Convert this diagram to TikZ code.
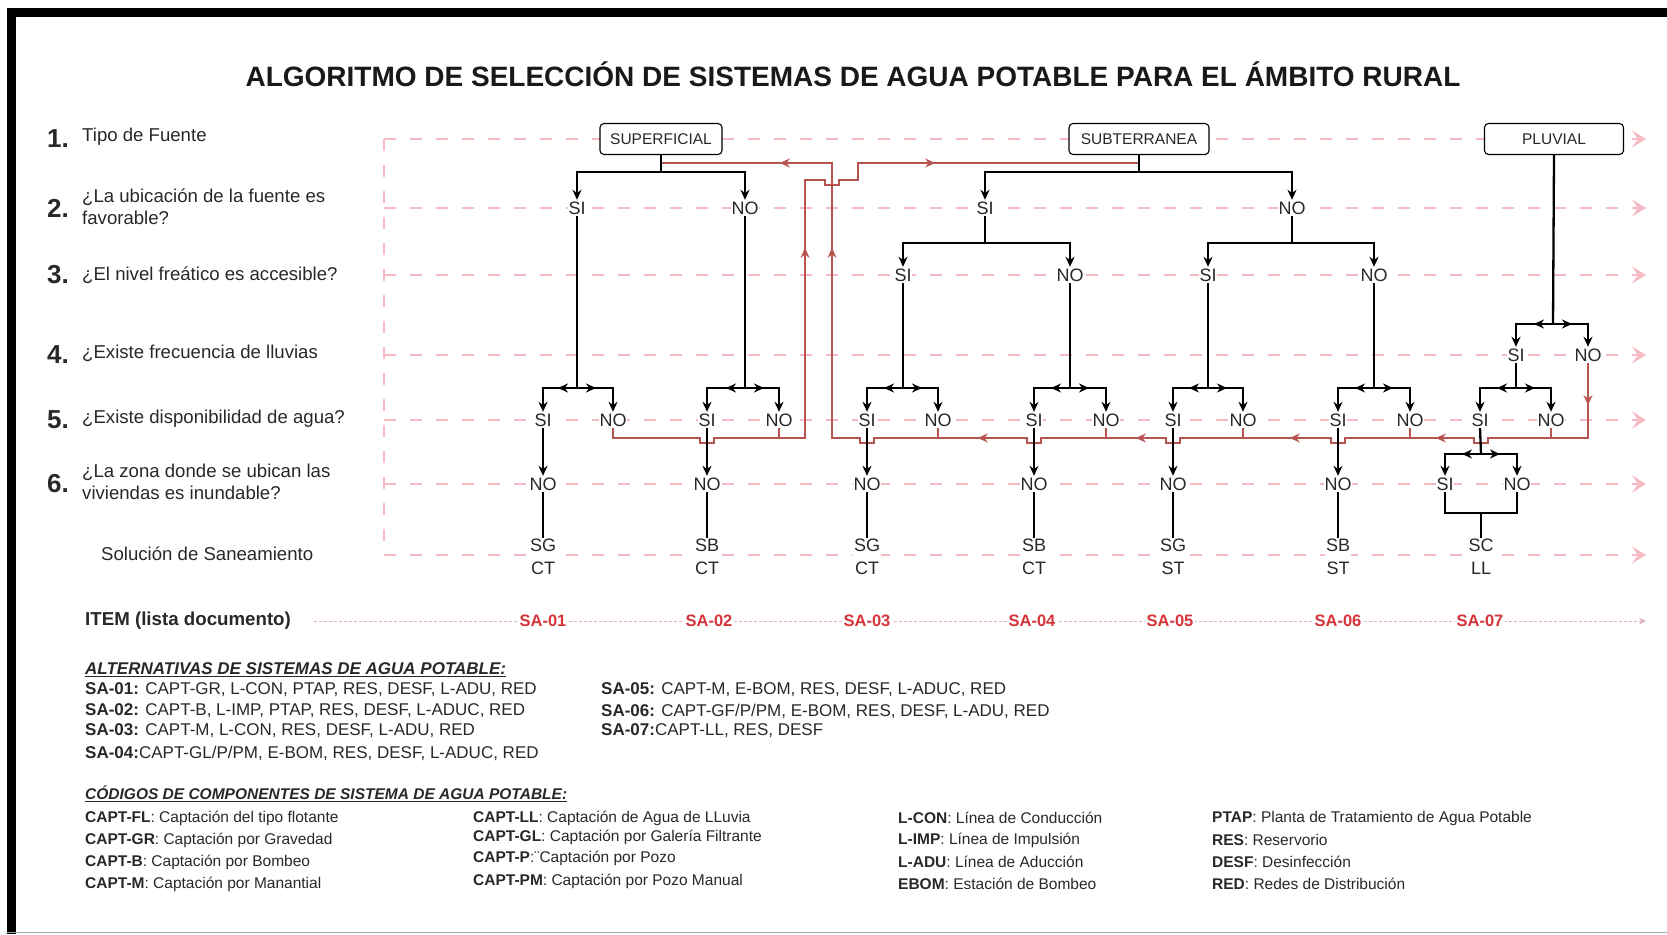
\documentclass[tikz,border=0pt]{standalone}
\usepackage{fontspec}
\setmainfont{Liberation Sans}
\usetikzlibrary{arrows.meta,decorations.markings}
\definecolor{dpink}{RGB}{245,186,194}
\definecolor{rline}{RGB}{184,84,80}
\definecolor{salab}{RGB}{212,52,58}
\definecolor{txt}{RGB}{40,40,40}
\definecolor{itemln}{RGB}{222,180,186}
\newcommand{\tipA}{\arrow{Stealth[length=10pt,width=9pt]}}
\begin{document}
\begin{tikzpicture}[x=1pt,y=-1pt,
  blk/.style={line width=2.3pt, draw=black},
  tipd/.style={-{Stealth[length=10pt,width=9pt]}},
  barl/.style={postaction={decorate}, decoration={markings, mark=at position 19pt with {\tipA}}},
  rl/.style={line width=2pt, draw=rline},
  yn/.style={font=\fontsize{18}{18}\selectfont, text=txt, fill=white, inner xsep=0.5pt, inner ysep=1.5pt, text height=13pt, text depth=0pt},
  sol/.style={font=\fontsize{18}{23}\selectfont, text=txt, align=center, inner sep=1pt, fill=white},
  srcbox/.style={draw=black, line width=1.1pt, rounded corners=4pt, fill=white, minimum height=31pt, font=\fontsize{15.5}{15.5}\selectfont, text=txt},
  sa/.style={font=\bfseries\fontsize{16.5}{16.5}\selectfont, text=salab, fill=white, inner sep=2pt},
  qtxt/.style={font=\fontsize{18.6}{22}\selectfont, text=txt, anchor=west, align=left, inner sep=0pt},
  qnum/.style={font=\bfseries\fontsize{26}{26}\selectfont, text=txt, inner sep=0pt},
  rowl/.style={draw=dpink, line width=2.6pt, dash pattern=on 12pt off 14pt},
  rowa/.style={rowl, -{Stealth[length=14pt,width=17pt,inset=6pt]}},
  leg/.style={anchor=west, inner sep=0pt, text=txt, font=\fontsize{17}{20}\selectfont},
  cod/.style={anchor=west, inner sep=0pt, text=txt, font=\fontsize{15.5}{18}\selectfont},
]
\useasboundingbox (0,0) rectangle (1667,934);
% frame
\draw[line width=9pt, line join=miter] (11.5,934) -- (11.5,12.5) -- (1667,12.5);
\draw[gray!70, line width=1.5pt] (7,932.5) -- (1667,932.5);

% title
\node[font=\bfseries\fontsize{28}{28}\selectfont, text=black!90] (title) at (853,74) {ALGORITMO DE SELECCIÓN DE SISTEMAS DE AGUA POTABLE PARA EL ÁMBITO RURAL};

% guide lines
\coordinate (gTop) at (384,139);
\coordinate (gBot) at (384,555);
\draw[rowl] (gTop) -- (gBot);
\foreach \yy in {139,208,275,355,420,484,555}{
  \draw[rowa] (384,\yy) -- (1646,\yy);
}
\coordinate (itL) at (314,621);
\coordinate (itR) at (1646,621);
\draw[draw=itemln, line width=1pt, dash pattern=on 3pt off 2pt, -{Stealth[length=7pt,width=7pt]}] (itL) -- (itR);

% left labels
\node[qnum] (n1) at (58,139) {1.};
\node[qtxt] (q1) at (82,137) {Tipo de Fuente};
\node[qnum] (n2) at (58,208) {2.};
\node[qtxt] (q2) at (82,207) {¿La ubicación de la fuente es\\favorable?};
\node[qnum] (n3) at (58,275) {3.};
\node[qtxt] (q3) at (82,275) {¿El nivel freático es accesible?};
\node[qnum] (n4) at (58,355) {4.};
\node[qtxt] (q4) at (82,353) {¿Existe frecuencia de lluvias};
\node[qnum] (n5) at (58,420) {5.};
\node[qtxt] (q5) at (82,419) {¿Existe disponibilidad de agua?};
\node[qnum] (n6) at (58,484) {6.};
\node[qtxt] (q6) at (82,482) {¿La zona donde se ubican las\\viviendas es inundable?};
\node[qtxt] (q7) at (101,554) {Solución de Saneamiento};
\node[qtxt, font=\bfseries\fontsize{18.7}{22}\selectfont] (q8) at (85,621) {ITEM (lista documento)};

% source boxes
\node[srcbox, minimum width=122pt] (sup) at (661,139) {SUPERFICIAL};
\node[srcbox, minimum width=140pt] (sub) at (1139,139) {SUBTERRANEA};
\node[srcbox, minimum width=139pt] (plu) at (1554,139) {PLUVIAL};

% row 2
\node[yn] (s2si) at (577,208) {SI};
\node[yn] (s2no) at (745,208) {NO};
\node[yn] (u2si) at (985,208) {SI};
\node[yn] (u2no) at (1292,208) {NO};
% row 3
\node[yn] (u3asi) at (903,275) {SI};
\node[yn] (u3ano) at (1070,275) {NO};
\node[yn] (u3bsi) at (1208,275) {SI};
\node[yn] (u3bno) at (1374,275) {NO};
% row 4
\node[yn] (p4si) at (1516,355) {SI};
\node[yn] (p4no) at (1588,355) {NO};
% row 5
\node[yn] (a5si) at (543,420) {SI};
\node[yn] (a5no) at (613,420) {NO};
\node[yn] (b5si) at (707,420) {SI};
\node[yn] (b5no) at (779,420) {NO};
\node[yn] (c5si) at (867,420) {SI};
\node[yn] (c5no) at (938,420) {NO};
\node[yn] (d5si) at (1034,420) {SI};
\node[yn] (d5no) at (1106,420) {NO};
\node[yn] (e5si) at (1173,420) {SI};
\node[yn] (e5no) at (1243,420) {NO};
\node[yn] (f5si) at (1338,420) {SI};
\node[yn] (f5no) at (1410,420) {NO};
\node[yn] (g5si) at (1480,420) {SI};
\node[yn] (g5no) at (1551,420) {NO};
% row 6
\node[yn] (a6) at (543,484) {NO};
\node[yn] (b6) at (707,484) {NO};
\node[yn] (c6) at (867,484) {NO};
\node[yn] (d6) at (1034,484) {NO};
\node[yn] (e6) at (1173,484) {NO};
\node[yn] (f6) at (1338,484) {NO};
\node[yn] (g6si) at (1445,484) {SI};
\node[yn] (g6no) at (1517,484) {NO};
% row 7
\node[sol] (a7) at (543,557) {SG\\CT};
\node[sol] (b7) at (707,557) {SB\\CT};
\node[sol] (c7) at (867,557) {SG\\CT};
\node[sol] (d7) at (1034,557) {SB\\CT};
\node[sol] (e7) at (1173,557) {SG\\ST};
\node[sol] (f7) at (1338,557) {SB\\ST};
\node[sol] (g7) at (1481,557) {SC\\LL};
% items
\node[sa] (sa1) at (543,621) {SA-01};
\node[sa] (sa2) at (709,621) {SA-02};
\node[sa] (sa3) at (867,621) {SA-03};
\node[sa] (sa4) at (1032,621) {SA-04};
\node[sa] (sa5) at (1170,621) {SA-05};
\node[sa] (sa6) at (1338,621) {SA-06};
\node[sa] (sa7) at (1480,621) {SA-07};

% red return connectors
\draw[rl, postaction={decorate}, decoration={markings,
    mark=at position 402pt with {\arrow{Stealth[length=10pt,width=9pt]}},
    mark=at position 627pt with {\arrow{Stealth[length=10pt,width=9pt]}}}]
  (a5no.south) -- (613,438) -- (700,438) -- (700,443) -- (714,443) -- (714,438)
  -- (805,438) -- (805,180) -- (825,180) -- (825,185) -- (839,185) -- (839,180)
  -- (858,180) -- (858,163) -- (1139,163);
\draw[rl] (b5no.south) -- (779,438);
\draw[rl, postaction={decorate}, decoration={markings,
    mark=at position 42pt with {\arrow{Stealth[length=10pt,width=9pt]}},
    mark=at position 237pt with {\arrow{Stealth[length=10pt,width=9pt]}},
    mark=at position 393pt with {\arrow{Stealth[length=10pt,width=9pt]}},
    mark=at position 557pt with {\arrow{Stealth[length=10pt,width=9pt]}},
    mark=at position 725pt with {\arrow{Stealth[length=10pt,width=9pt]}},
    mark=at position 1071pt with {\arrow{Stealth[length=10pt,width=9pt]}},
    mark=at position 1208pt with {\arrow{Stealth[length=10pt,width=9pt]}}}]
  (p4no.south) -- (1588,438) -- (1488,438) -- (1488,443) -- (1474,443) -- (1474,438)
  -- (1345,438) -- (1345,443) -- (1331,443) -- (1331,438)
  -- (1180,438) -- (1180,443) -- (1166,443) -- (1166,438)
  -- (1041,438) -- (1041,443) -- (1027,443) -- (1027,438)
  -- (874,438) -- (874,443) -- (860,443) -- (860,438)
  -- (832,438) -- (832,163) -- (661,163);
\draw[rl] (c5no.south) -- (938,438);
\draw[rl] (d5no.south) -- (1106,438);
\draw[rl] (e5no.south) -- (1243,438);
\draw[rl] (f5no.south) -- (1410,438);
\draw[rl] (g5no.south) -- (1551,438);

% black tree: superficial
\draw[blk] (sup.south) -- (661,172);
\draw[blk,tipd] (661,172) -| (s2si.north);
\draw[blk,tipd] (661,172) -| (s2no.north);
% subterranea
\draw[blk] (sub.south) -- (1139,172);
\draw[blk,tipd] (1139,172) -| (u2si.north);
\draw[blk,tipd] (1139,172) -| (u2no.north);
\draw[blk] (u2si.south) -- (985,243);
\draw[blk,tipd] (985,243) -| (u3asi.north);
\draw[blk,tipd] (985,243) -| (u3ano.north);
\draw[blk] (u2no.south) -- (1292,243);
\draw[blk,tipd] (1292,243) -| (u3bsi.north);
\draw[blk,tipd] (1292,243) -| (u3bno.north);
% pluvial
\draw[blk] (plu.south) -- (1553,324);
\draw[blk,tipd,barl] (1553,324) -| (p4si.north);
\draw[blk,tipd,barl] (1553,324) -| (p4no.north);
% row 5 bars
\draw[blk] (s2si.south) -- (577,388);
\draw[blk,tipd,barl] (577,388) -| (a5si.north);
\draw[blk,tipd,barl] (577,388) -| (a5no.north);
\draw[blk] (s2no.south) -- (745,388);
\draw[blk,tipd,barl] (745,388) -| (b5si.north);
\draw[blk,tipd,barl] (745,388) -| (b5no.north);
\draw[blk] (u3asi.south) -- (903,388);
\draw[blk,tipd,barl] (903,388) -| (c5si.north);
\draw[blk,tipd,barl] (903,388) -| (c5no.north);
\draw[blk] (u3ano.south) -- (1070,388);
\draw[blk,tipd,barl] (1070,388) -| (d5si.north);
\draw[blk,tipd,barl] (1070,388) -| (d5no.north);
\draw[blk] (u3bsi.south) -- (1208,388);
\draw[blk,tipd,barl] (1208,388) -| (e5si.north);
\draw[blk,tipd,barl] (1208,388) -| (e5no.north);
\draw[blk] (u3bno.south) -- (1374,388);
\draw[blk,tipd,barl] (1374,388) -| (f5si.north);
\draw[blk,tipd,barl] (1374,388) -| (f5no.north);
\draw[blk] (p4si.south) -- (1516,388);
\draw[blk,tipd,barl] (1516,388) -| (g5si.north);
\draw[blk,tipd,barl] (1516,388) -| (g5no.north);
% row 5 -> row 6
\draw[blk,tipd] (a5si.south) -- (a6.north);
\draw[blk,tipd] (b5si.south) -- (b6.north);
\draw[blk,tipd] (c5si.south) -- (c6.north);
\draw[blk,tipd] (d5si.south) -- (d6.north);
\draw[blk,tipd] (e5si.south) -- (e6.north);
\draw[blk,tipd] (f5si.south) -- (f6.north);
\draw[blk] (g5si.south) -- (1481,454);
\draw[blk,tipd,barl] (1481,454) -| (g6si.north);
\draw[blk,tipd,barl] (1481,454) -| (g6no.north);
% row 6 -> row 7
\draw[blk] (a6.south) -- (a7.north);
\draw[blk] (b6.south) -- (b7.north);
\draw[blk] (c6.south) -- (c7.north);
\draw[blk] (d6.south) -- (d7.north);
\draw[blk] (e6.south) -- (e7.north);
\draw[blk] (f6.south) -- (f7.north);
\draw[blk] (g6si.south) -- (1445,513) -- (1517,513) -- (g6no.south);
\draw[blk] (1481,513) -- (g7.north);

% legend: alternatives
\node[leg, font=\bfseries\itshape\fontsize{17}{20}\selectfont] (hA) at (85,670) {\underline{ALTERNATIVAS DE SISTEMAS DE AGUA POTABLE:}};
\node[leg] (l1) at (85,690) {\textbf{SA-01:} CAPT-GR, L-CON, PTAP, RES, DESF, L-ADU, RED};
\node[leg] (l2) at (85,711) {\textbf{SA-02:} CAPT-B, L-IMP, PTAP, RES, DESF, L-ADUC, RED};
\node[leg] (l3) at (85,731) {\textbf{SA-03:} CAPT-M, L-CON, RES, DESF, L-ADU, RED};
\node[leg] (l4) at (85,753) {\textbf{SA-04:}CAPT-GL/P/PM, E-BOM, RES, DESF, L-ADUC, RED};
\node[leg] (l5) at (601,690) {\textbf{SA-05:} CAPT-M, E-BOM, RES, DESF, L-ADUC, RED};
\node[leg] (l6) at (601,711) {\textbf{SA-06:} CAPT-GF/P/PM, E-BOM, RES, DESF, L-ADU, RED};
\node[leg] (l7) at (601,731) {\textbf{SA-07:}CAPT-LL, RES, DESF};

% legend: component codes
\node[leg, font=\bfseries\itshape\fontsize{15.5}{20}\selectfont] (hB) at (85,794) {\underline{CÓDIGOS DE COMPONENTES DE SISTEMA DE AGUA POTABLE:}};
\node[cod] (c11) at (85,818) {\textbf{CAPT-FL}: Captación del tipo flotante};
\node[cod] (c12) at (85,840) {\textbf{CAPT-GR}: Captación por Gravedad};
\node[cod] (c13) at (85,862) {\textbf{CAPT-B}: Captación por Bombeo};
\node[cod] (c14) at (85,884) {\textbf{CAPT-M}: Captación por Manantial};
\node[cod] (c21) at (473,818) {\textbf{CAPT-LL}: Captación de Agua de LLuvia};
\node[cod] (c22) at (473,837) {\textbf{CAPT-GL}: Captación por Galería Filtrante};
\node[cod] (c23) at (473,858) {\textbf{CAPT-P}:¨Captación por Pozo};
\node[cod] (c24) at (473,881) {\textbf{CAPT-PM}: Captación por Pozo Manual};
\node[cod] (c31) at (898,818) {\textbf{L-CON}: Línea de Conducción};
\node[cod] (c32) at (898,840) {\textbf{L-IMP}: Línea de Impulsión};
\node[cod] (c33) at (898,862) {\textbf{L-ADU}: Línea de Aducción};
\node[cod] (c34) at (898,884) {\textbf{EBOM}: Estación de Bombeo};
\node[cod] (c41) at (1212,818) {\textbf{PTAP}: Planta de Tratamiento de Agua Potable};
\node[cod] (c42) at (1212,840) {\textbf{RES}: Reservorio};
\node[cod] (c43) at (1212,862) {\textbf{DESF}: Desinfección};
\node[cod] (c44) at (1212,884) {\textbf{RED}: Redes de Distribución};
\end{tikzpicture}
\end{document}
